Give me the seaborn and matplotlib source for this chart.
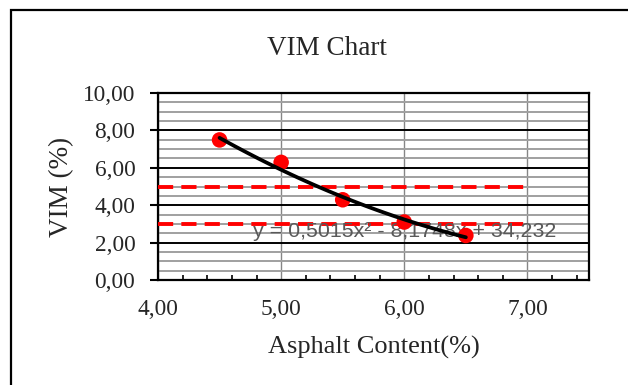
import matplotlib
matplotlib.use("Agg")
import matplotlib.pyplot as plt
from matplotlib.patches import Rectangle
from matplotlib.ticker import MultipleLocator, FuncFormatter
import numpy as np
import pandas as pd
import seaborn as sns

# Measured VIM values at each asphalt content
asphalt_content = [4.5, 5.0, 5.5, 6.0, 6.5]
vim_values = [7.49, 6.29, 4.29, 3.10, 2.38]

# Quadratic trendline coefficients (a, b, c) for y = a x^2 + b x + c
trend_coeffs = [0.5015, -8.1748, 34.232]
trend_label = "y = 0,5015x² - 8,1748x + 34,232"

# Specification limits for VIM
limit_x = [4.0, 7.0]
vim_upper = [5.0, 5.0]
vim_lower = [3.0, 3.0]

sns.set_style("white")
plt.rcParams["font.family"] = ["Liberation Serif", "DejaVu Serif"]

fig = plt.figure(figsize=(6.28, 3.85), dpi=100)
ax = fig.add_axes([158 / 628, 1 - 280 / 385, 431 / 628, 187 / 385])

# Chart area frame
fig.patches.append(Rectangle((11 / 628, -0.2), 1.2, 1.2 - 10 / 385,
                             transform=fig.transFigure, fill=False,
                             edgecolor="black", linewidth=1.6, zorder=0))

points = pd.DataFrame({"x": asphalt_content, "y": vim_values})
curve_x = np.linspace(min(asphalt_content), max(asphalt_content), 100)
a, b, c = trend_coeffs
curve = pd.DataFrame({"x": curve_x, "y": a * curve_x ** 2 + b * curve_x + c})

for limit in (vim_upper, vim_lower):
    sns.lineplot(x=limit_x, y=limit, ax=ax, color="#ff0000", linewidth=2.8,
                 zorder=3)
    ax.lines[-1].set_dashes([3.9, 2.1])

ax.text(4.772, 2.32, trend_label, ha="left", va="baseline",
        fontsize=15.4, color="#595959", family=["Liberation Sans", "DejaVu Sans"],
        zorder=4)

sns.scatterplot(data=points, x="x", y="y", ax=ax, color="#ff0000", s=125,
                edgecolor="none", zorder=5)
sns.lineplot(data=curve, x="x", y="y", ax=ax, color="black", linewidth=2.7,
             zorder=6)

ax.set_xlim(4.0, 7.5)
ax.set_ylim(0, 10)
ax.xaxis.set_major_locator(MultipleLocator(1.0))
ax.xaxis.set_minor_locator(MultipleLocator(0.2))
ax.yaxis.set_major_locator(MultipleLocator(2.0))
ax.yaxis.set_minor_locator(MultipleLocator(0.5))
fmt = FuncFormatter(lambda v, p: f"{v:.2f}".replace(".", ","))
ax.xaxis.set_major_formatter(fmt)
ax.yaxis.set_major_formatter(fmt)

ax.set_axisbelow(True)
ax.grid(which="major", axis="y", color="black", linewidth=1.4)
ax.grid(which="minor", axis="y", color="#a0a0a0", linewidth=1.4)
ax.grid(which="major", axis="x", color="#868686", linewidth=1.0)

for s in ax.spines.values():
    s.set_color("black")
    s.set_linewidth(1.6)

ax.tick_params(axis="x", which="major", direction="inout", length=9.5,
               width=1.5, color="black", labelsize=16.8, pad=9)
ax.tick_params(axis="x", which="minor", direction="in", length=3.6,
               width=1.2, color="black", bottom=True)
ax.tick_params(axis="y", which="major", direction="out", length=5.8,
               width=1.5, color="black", labelsize=16.8, pad=10.5, left=True)
ax.tick_params(axis="y", which="minor", length=0, left=False)

ax.set_xlabel("Asphalt Content(%)", fontsize=19)
ax.set_ylabel("VIM (%)", fontsize=19.5)
ax.xaxis.label.set_va("baseline")
ax.xaxis.set_label_coords(0.5, (280 - 354) / 187)
ax.yaxis.label.set_va("center")
ax.yaxis.set_label_coords((61.7 - 158) / 431, 0.5)

ax.set_title("VIM Chart", fontsize=19.5, x=(327 - 158) / 431,
             y=(280 - 55) / 187, va="baseline", pad=0)

fig.savefig("out.png", dpi=100)
